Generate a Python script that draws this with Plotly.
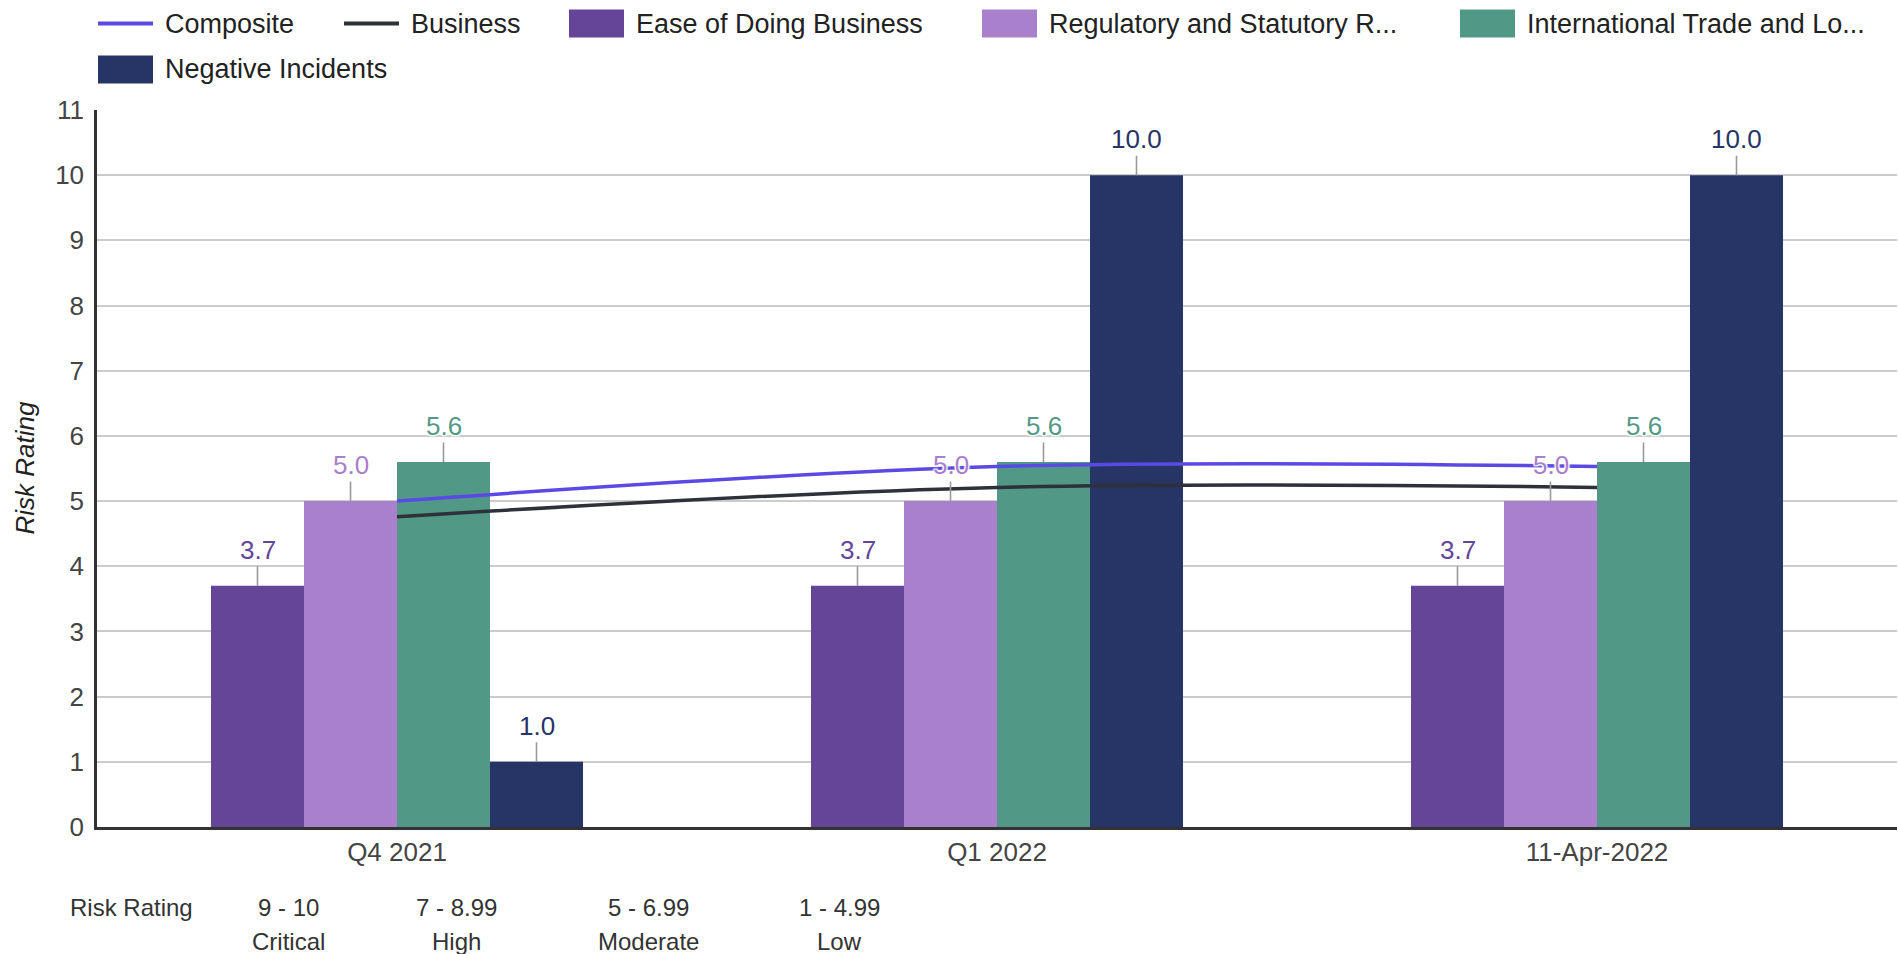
import plotly.graph_objects as go

# ---- data -------------------------------------------------------------
categories = ["Q4 2021", "Q1 2022", "11-Apr-2022"]

composite = [5.0, 5.53, 5.53]
business = [4.76, 5.21, 5.21]

ease_of_doing_business = [3.7, 3.7, 3.7]
regulatory_statutory = [5.0, 5.0, 5.0]
international_trade = [5.6, 5.6, 5.6]
negative_incidents = [1.0, 10.0, 10.0]

line_names = ["Composite", "Business"]
bar_names = [
    "Ease of Doing Business",
    "Regulatory and Statutory R...",
    "International Trade and Lo...",
    "Negative Incidents",
]

rating_bands = ["9 - 10", "7 - 8.99", "5 - 6.99", "1 - 4.99"]
rating_levels = ["Critical", "High", "Moderate", "Low"]

y_ticks = list(range(0, 12))

# ---- styling ----------------------------------------------------------
FONT = "Liberation Sans, Arial, Helvetica, sans-serif"
LINE_COLORS = ["#5a4ae3", "#2e3139"]
BAR_COLORS = ["#654597", "#a980cc", "#529886", "#273466"]

W, H = 1898, 954
PLOT_L, PLOT_R, PLOT_T, PLOT_B = 97, 1897, 110, 827
PW, PH = PLOT_R - PLOT_L, PLOT_B - PLOT_T

BARGAP = 0.38


def px_x(px):
    return (px - PLOT_L) / PW


def px_y(py):
    return (PLOT_B - py) / PH


fig = go.Figure()

bar_series = [ease_of_doing_business, regulatory_statutory,
              international_trade, negative_incidents]
for name, vals, col in zip(bar_names, bar_series, BAR_COLORS):
    fig.add_trace(go.Bar(
        x=categories, y=vals, name=name,
        marker=dict(color=col, line=dict(width=0)), showlegend=False,
    ))

# trend lines drawn over the bars
for name, vals, col in zip(line_names, [composite, business], LINE_COLORS):
    fig.add_trace(go.Scatter(
        x=categories, y=vals, name=name, mode="lines",
        line=dict(color=col, width=3.5, shape="spline", smoothing=1),
        showlegend=False,
    ))

# value labels with short leader lines
n = len(bar_series)
bw = (1 - BARGAP) / n
halo = ("1px 1px 1px #fff, -1px -1px 1px #fff, 1px -1px 1px #fff, "
        "-1px 1px 1px #fff, 0 0 3px #fff")
annotations = []
for i, (vals, col) in enumerate(zip(bar_series, BAR_COLORS)):
    for c, v in enumerate(vals):
        annotations.append(dict(
            x=c + (i - (n - 1) / 2) * bw, y=v, xref="x", yref="y",
            text=f"{v:.1f}", showarrow=True, arrowhead=0, arrowwidth=1.6,
            arrowcolor="#999999", ax=0, ay=-36,
            font=dict(family=FONT, size=26, color=col, shadow=halo),
        ))

# y-axis title
annotations.append(dict(
    x=px_x(24), y=0.5, xref="paper", yref="paper", text="Risk Rating",
    textangle=-90, showarrow=False, xanchor="center", yanchor="middle",
    font=dict(family=FONT, size=26, color="#222222", style="italic"),
))

# legend
shapes = []
legend_rows = [
    [(98, "line", line_names[0], LINE_COLORS[0]),
     (344, "line", line_names[1], LINE_COLORS[1]),
     (569, "box", bar_names[0], BAR_COLORS[0]),
     (982, "box", bar_names[1], BAR_COLORS[1]),
     (1460, "box", bar_names[2], BAR_COLORS[2])],
    [(98, "box", bar_names[3], BAR_COLORS[3])],
]
row_y = [23.5, 69.5]
SW_W, SW_H = 55, 28
for ry, row in zip(row_y, legend_rows):
    for x0, kind, label, col in row:
        if kind == "line":
            shapes.append(dict(type="line", xref="paper", yref="paper",
                               x0=px_x(x0), x1=px_x(x0 + SW_W),
                               y0=px_y(ry), y1=px_y(ry),
                               line=dict(color=col, width=4)))
        else:
            shapes.append(dict(type="rect", xref="paper", yref="paper",
                               x0=px_x(x0), x1=px_x(x0 + SW_W),
                               y0=px_y(ry - SW_H / 2), y1=px_y(ry + SW_H / 2),
                               fillcolor=col, line=dict(width=0)))
        annotations.append(dict(
            x=px_x(x0 + SW_W + 10), y=px_y(ry), xref="paper", yref="paper",
            text=label, showarrow=False, xanchor="left", yanchor="middle",
            font=dict(family=FONT, size=27, color="#222222"),
        ))

# risk rating key under the chart
annotations.append(dict(
    x=px_x(68), y=px_y(908), xref="paper", yref="paper", text="Risk Rating",
    showarrow=False, xanchor="left", yanchor="middle",
    font=dict(family=FONT, size=24, color="#333333"),
))
for cx, band, level in zip([288, 456, 648, 839], rating_bands, rating_levels):
    annotations.append(dict(
        x=px_x(cx), y=px_y(908), xref="paper", yref="paper", text=band,
        showarrow=False, xanchor="center", yanchor="middle",
        font=dict(family=FONT, size=24, color="#333333"),
    ))
    annotations.append(dict(
        x=px_x(cx), y=px_y(942), xref="paper", yref="paper", text=level,
        showarrow=False, xanchor="center", yanchor="middle",
        font=dict(family=FONT, size=24, color="#333333"),
    ))

fig.update_layout(
    width=W, height=H,
    margin=dict(l=PLOT_L, r=W - PLOT_R, t=PLOT_T, b=H - PLOT_B),
    paper_bgcolor="white", plot_bgcolor="white",
    barmode="group", bargap=BARGAP, bargroupgap=0,
    showlegend=False,
    font=dict(family=FONT, color="#444444"),
    xaxis=dict(
        type="category", range=[-0.5, len(categories) - 0.5],
        showgrid=False, zeroline=False,
        showline=True, linecolor="#333333", linewidth=2.5,
        ticks="", ticklabelstandoff=0,
        tickfont=dict(family=FONT, size=26, color="#444444"),
    ),
    yaxis=dict(
        range=[0, 11], tickvals=y_ticks, showgrid=True, gridcolor="#cccccc",
        gridwidth=2, zeroline=False, showline=True, linecolor="#333333",
        linewidth=2.5, ticks="", ticklabelstandoff=5,
        tickfont=dict(family=FONT, size=26, color="#444444"),
    ),
    annotations=annotations,
    shapes=shapes,
)

fig.write_html("out.html", include_plotlyjs=True)
